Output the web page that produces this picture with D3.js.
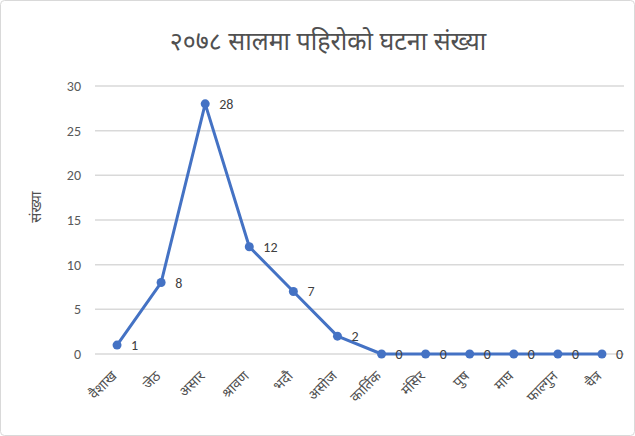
<!DOCTYPE html>
<meta charset="utf-8">
<script src="https://d3js.org/d3.v7.min.js"></script>
<style>
  body { margin: 0; background: #fff; }
  text { font-family: "Noto Sans", "Noto Sans Devanagari", "Lohit Devanagari", sans-serif; }
</style>
<div id="plot_div"></div>
<script>
    // data
    const months = ["वैशाख", "जेठ", "असार", "श्रावण", "भदौ", "असोज", "कार्तिक", "मंसिर", "पुष", "माघ", "फाल्गुन", "चैत्र"];
    const counts = [1, 8, 28, 12, 7, 2, 0, 0, 0, 0, 0, 0];
    const yTicks = [0, 5, 10, 15, 20, 25, 30];
    const title = "२०७८ सालमा पहिरोको घटना संख्या";
    const yTitle = "संख्या";

    var W = 635, H = 436,
        margin = { top: 86, right: 11, bottom: 82, left: 95 },
        width = W - margin.left - margin.right,
        height = H - margin.top - margin.bottom;

    var root = d3.select("#plot_div").append("svg")
        .attr("width", W).attr("height", H);

    // outer chart border
    root.append("rect")
        .attr("x", 0.5).attr("y", 0.5)
        .attr("width", W - 1).attr("height", H - 1)
        .attr("rx", 4)
        .attr("fill", "#fff").attr("stroke", "#d9d9d9");

    root.append("text")
        .attr("x", 328).attr("y", 50)
        .attr("text-anchor", "middle")
        .attr("font-size", 25)
        .attr("fill", "#505050")
        .text(title);

    var svg = root.append("g")
        .attr("transform", "translate(" + margin.left + "," + margin.top + ")");

    var x = d3.scalePoint().domain(months).range([0, width]).padding(0.5);
    var y = d3.scaleLinear().domain([0, 30]).range([height, 0]);

    // gridlines
    svg.append("g").selectAll("line").data(yTicks).join("line")
        .attr("x1", 0).attr("x2", width)
        .attr("y1", d => y(d)).attr("y2", d => y(d))
        .attr("stroke", "#d9d9d9").attr("stroke-width", 1.5);

    // y axis labels
    var ya = svg.append("g").call(d3.axisLeft(y).tickValues(yTicks).tickSize(0).tickPadding(14));
    ya.select(".domain").remove();
    ya.selectAll("text").attr("font-size", 14).attr("fill", "#595959")
        .style("font-family", "Calibri, Carlito, 'Liberation Sans', sans-serif");

    // x axis labels, rotated
    var xa = svg.append("g").attr("transform", "translate(0," + height + ")")
        .call(d3.axisBottom(x).tickSize(0).tickPadding(0));
    xa.select(".domain").remove();
    xa.selectAll("text")
        .attr("font-size", 14).attr("fill", "#505050")
        .attr("text-anchor", "end")
        .attr("dy", 0)
        .attr("transform", "translate(0,23) rotate(-45)");

    root.append("text")
        .attr("transform", "translate(41," + (margin.top + height / 2 - 13) + ") rotate(-90)")
        .attr("text-anchor", "middle")
        .attr("font-size", 15)
        .attr("fill", "#505050")
        .text(yTitle);

    var line = d3.line().x((d, i) => x(months[i])).y(d => y(d));
    svg.append("path").datum(counts)
        .attr("d", line)
        .attr("fill", "none").attr("stroke", "#4472C4")
        .attr("stroke-width", 3).attr("stroke-linejoin", "round");

    svg.append("g").selectAll("circle").data(counts).join("circle")
        .attr("cx", (d, i) => x(months[i])).attr("cy", d => y(d))
        .attr("r", 4.5).attr("fill", "#4472C4");

    svg.append("g").selectAll("text").data(counts).join("text")
        .attr("x", (d, i) => x(months[i]) + 14).attr("y", d => y(d) + 5)
        .attr("font-size", 14).attr("fill", "#404040")
        .style("font-family", "Calibri, Carlito, 'Liberation Sans', sans-serif")
        .text(d => d);
</script>
